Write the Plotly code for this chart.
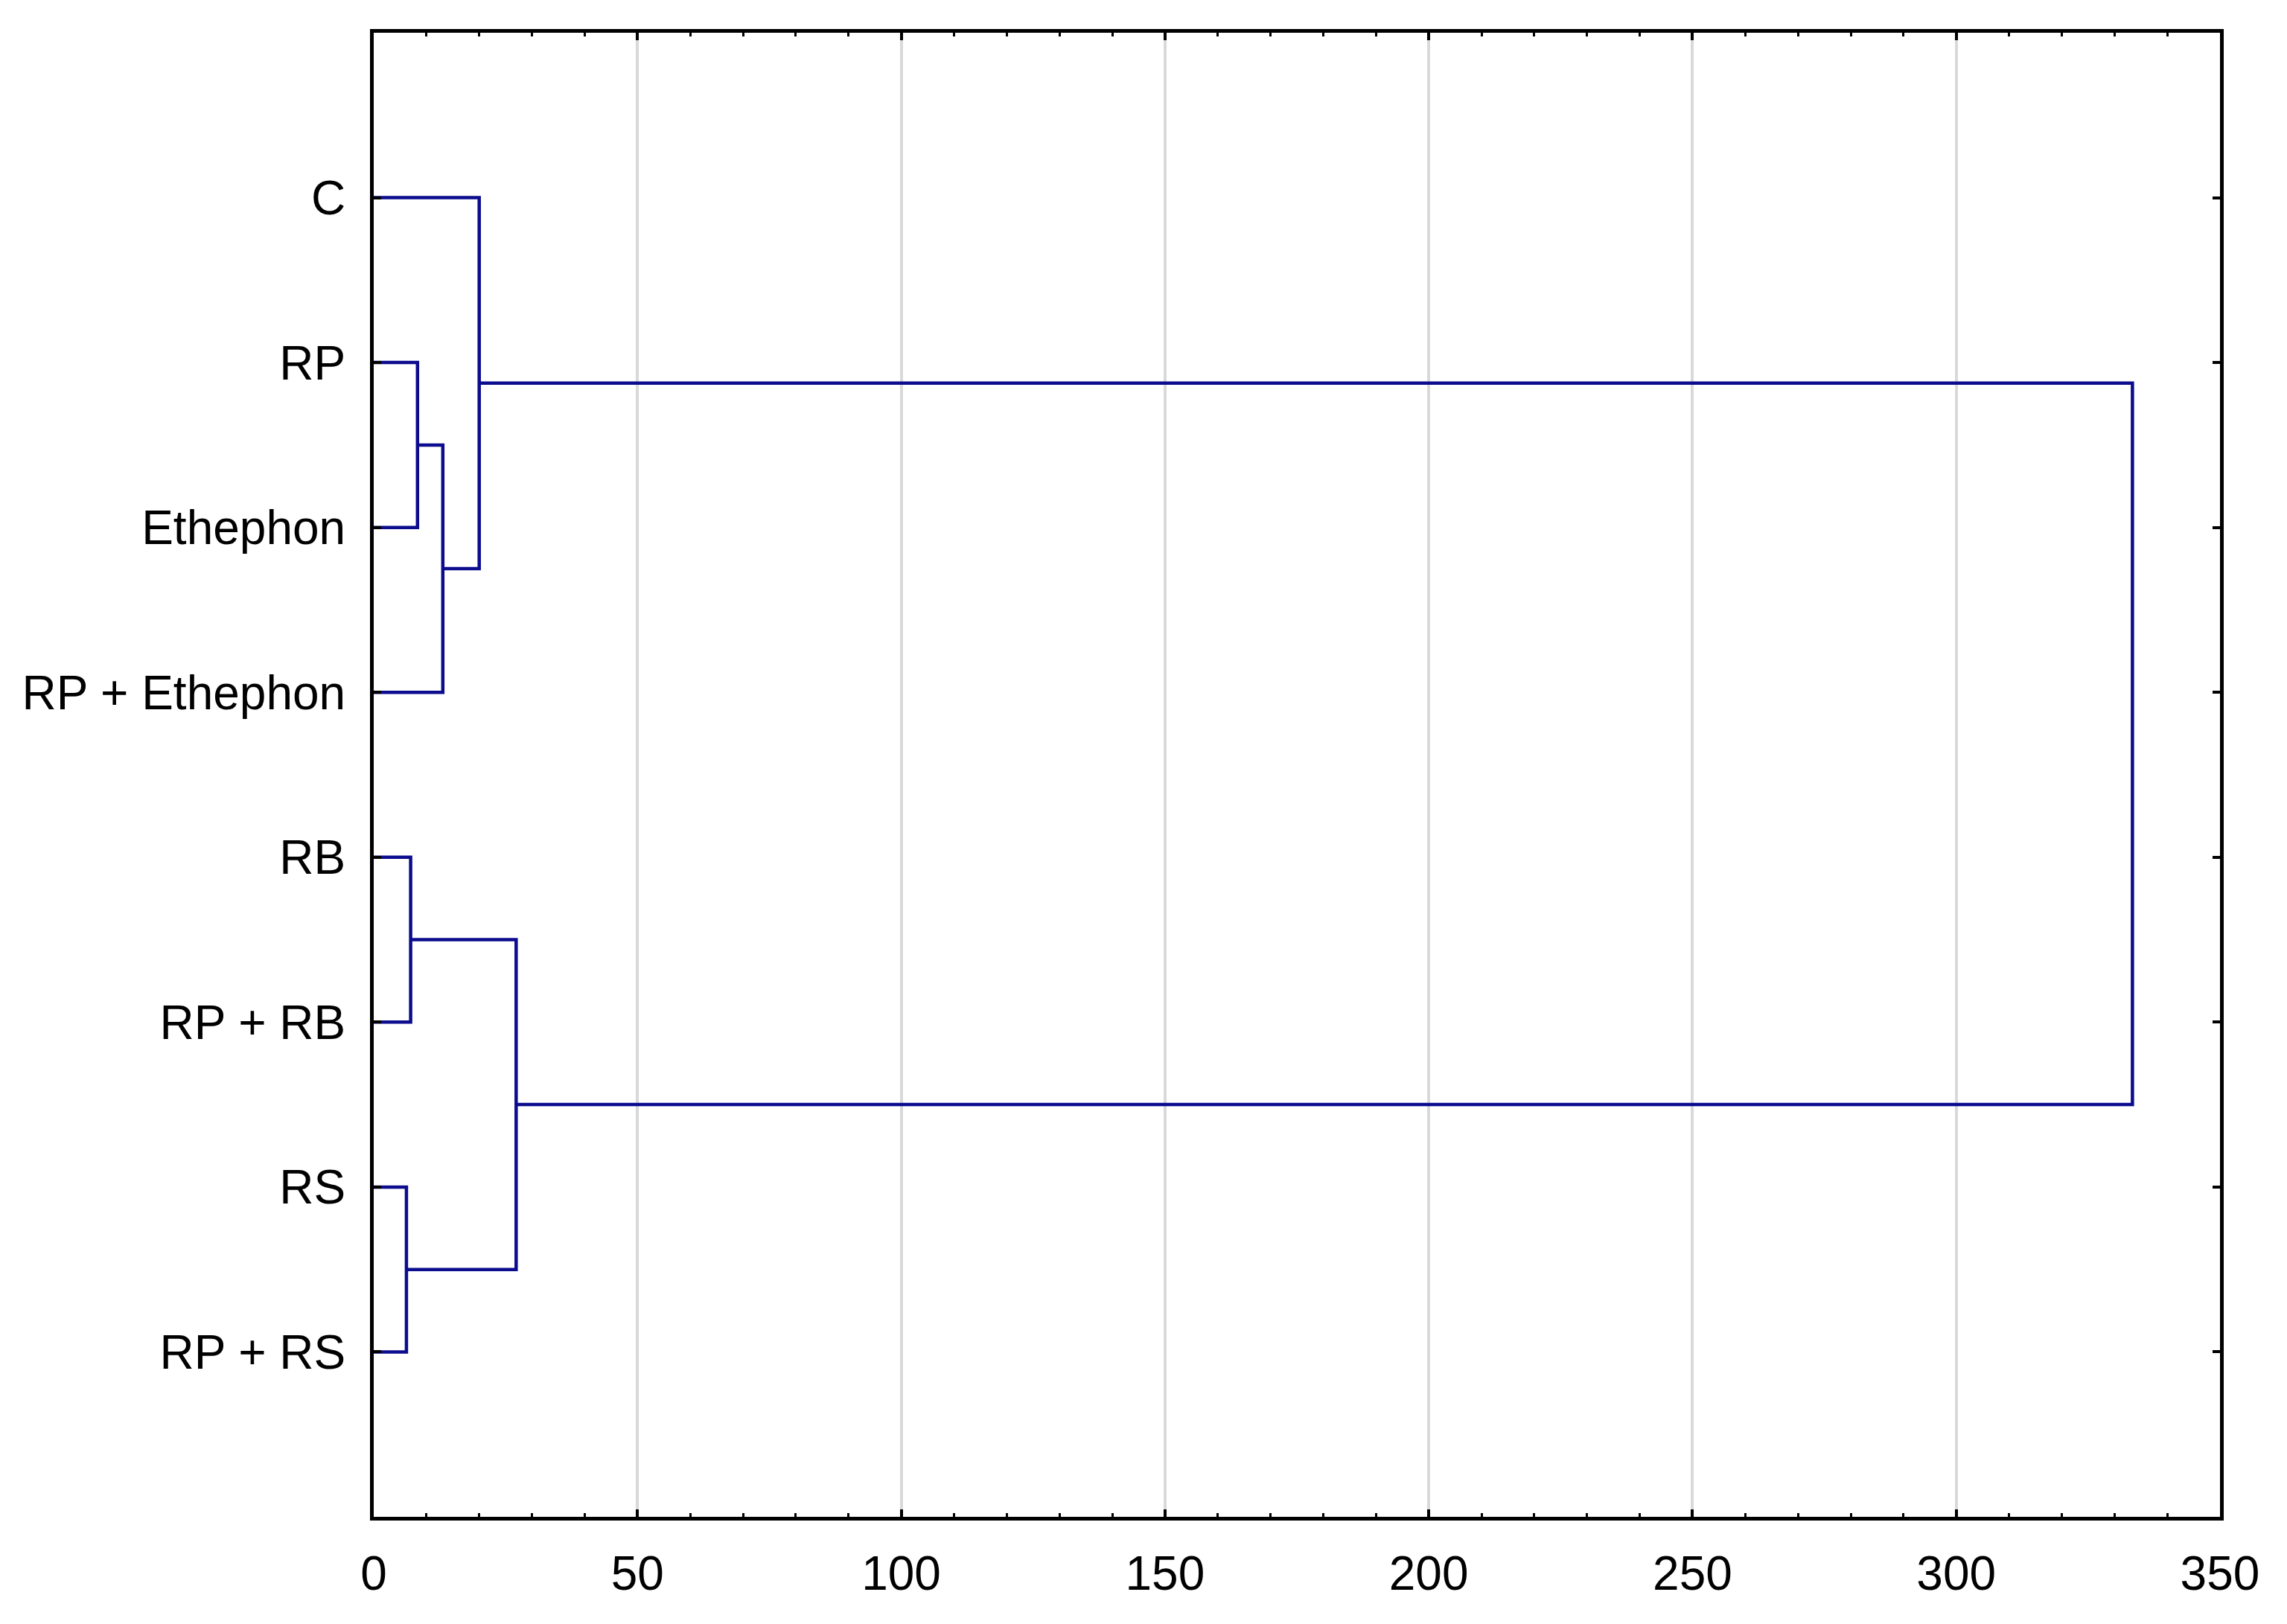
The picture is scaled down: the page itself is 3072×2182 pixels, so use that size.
import plotly.graph_objects as go

# Leaf labels (top to bottom)
labels = ["C", "RP", "Ethephon", "RP + Ethephon", "RB", "RP + RB", "RS", "RP + RS"]

# Linkage: leaves are ids 0..7, merge k creates node id 8+k
merge_a = [1, 8, 0, 4, 6, 11, 10]
merge_b = [2, 3, 9, 5, 7, 12, 13]
merge_height = [8.3, 13.1, 20.0, 7.0, 6.2, 27.0, 333.4]

x_ticks = [0, 50, 100, 150, 200, 250, 300, 350]

n = len(labels)
pos = {i: i + 1 for i in range(n)}
hgt = {i: 0.0 for i in range(n)}
xs, ys = [], []
for k, (a, b, h) in enumerate(zip(merge_a, merge_b, merge_height)):
    xs += [hgt[a], h, h, hgt[b], None]
    ys += [pos[a], pos[a], pos[b], pos[b], None]
    node = n + k
    pos[node] = (pos[a] + pos[b]) / 2
    hgt[node] = h

fig = go.Figure()
fig.add_trace(go.Scatter(x=xs, y=ys, mode="lines",
                         line=dict(color="#0c0c8e", width=4.5),
                         showlegend=False, hoverinfo="skip"))

font = dict(family="Liberation Sans, Arial, sans-serif", size=64, color="black")

fig.update_layout(
    width=3064, height=2174,
    margin=dict(l=494, r=90, t=36, b=144),
    paper_bgcolor="white", plot_bgcolor="white",
    font=font,
    xaxis=dict(range=[0, 350], tickvals=x_ticks, ticktext=[str(v) for v in x_ticks],
               showgrid=True, gridcolor="#d9d9d9", gridwidth=4,
               showline=True, linecolor="black", linewidth=5, mirror="ticks",
               ticks="inside", ticklen=10, tickwidth=4, tickcolor="black",
               minor=dict(dtick=10, ticks="inside", ticklen=5, tickwidth=3,
                          tickcolor="black", showgrid=False),
               zeroline=False, tickfont=font, ticklabelstandoff=16),
    yaxis=dict(range=[9, 0], tickvals=list(range(1, n + 1)), ticktext=labels,
               showgrid=False, zeroline=False,
               showline=True, linecolor="black", linewidth=5, mirror="ticks",
               ticks="inside", ticklen=10, tickwidth=4, tickcolor="black",
               tickfont=font, ticklabelstandoff=20),
)

fig.write_html("out.html")
